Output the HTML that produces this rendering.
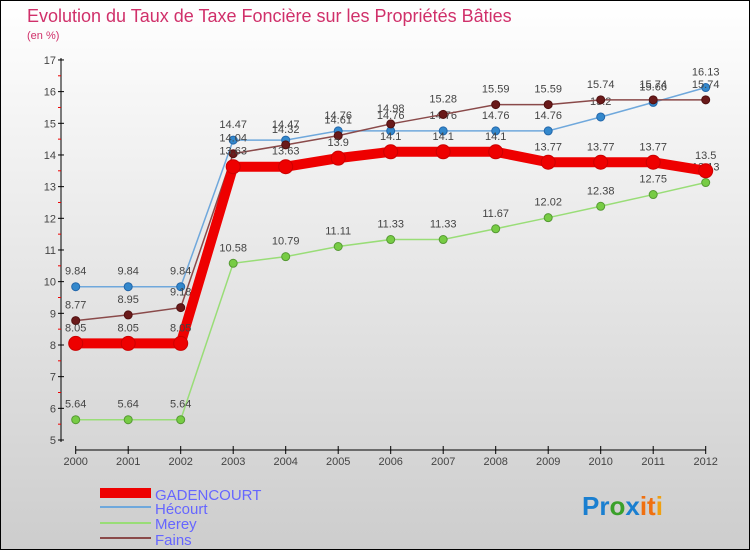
<!DOCTYPE html>
<html><head><meta charset="utf-8"><style>
body{margin:0}
#c{width:750px;height:550px;position:relative;overflow:hidden}
svg text{font-family:"Liberation Sans",sans-serif}
</style></head><body>
<div id="c">
<svg id="s" width="750" height="550" xmlns="http://www.w3.org/2000/svg">
<defs><linearGradient id="bg" x1="0" y1="0" x2="0" y2="1"><stop offset="0" stop-color="#ffffff"/><stop offset="1" stop-color="#cdcdcd"/></linearGradient></defs>
<rect x="0.5" y="0.5" width="749" height="549" fill="url(#bg)" stroke="#000"/>
<text x="27" y="22" font-size="18" fill="#d0306a">Evolution du Taux de Taxe Foncière sur les Propriétés Bâties</text>
<text x="27" y="39" font-size="11" fill="#d0306a">(en %)</text>
<g id="axes"></g><g id="series"></g>
<g>
<rect x="100" y="488" width="51" height="10" fill="#e00"/>
<text x="155" y="500" font-size="15" fill="#6666ff">GADENCOURT</text>
<rect x="100" y="506" width="51" height="2" fill="#6fa8dc"/>
<text x="155" y="514" font-size="15" fill="#6666ff">Hécourt</text>
<rect x="100" y="522" width="51" height="2" fill="#99dd77"/>
<text x="155" y="529" font-size="15" fill="#6666ff">Merey</text>
<rect x="100" y="537" width="51" height="2" fill="#8a4a4a"/>
<text x="155" y="545" font-size="15" fill="#6666ff">Fains</text>
</g>
<text x="582" y="515" font-size="26" font-weight="bold"><tspan fill="#1a7fd0">Pr</tspan><tspan fill="#3aa02a">o</tspan><tspan fill="#1a7fd0">x</tspan><tspan fill="#f07010">it</tspan><tspan fill="#f0a010">i</tspan></text>
</svg></div>
<script>
const years=[2000,2001,2002,2003,2004,2005,2006,2007,2008,2009,2010,2011,2012];
const yTicks=[5,6,7,8,9,10,11,12,13,14,15,16,17];
const gadencourt=[8.05,8.05,8.05,13.63,13.63,13.9,14.1,14.1,14.1,13.77,13.77,13.77,13.5];
const hecourt=[9.84,9.84,9.84,14.47,14.47,14.76,14.76,14.76,14.76,14.76,15.2,15.66,16.13];
const merey=[5.64,5.64,5.64,10.58,10.79,11.11,11.33,11.33,11.67,12.02,12.38,12.75,13.13];
const fains=[8.77,8.95,9.18,14.04,14.32,14.61,14.98,15.28,15.59,15.59,15.74,15.74,15.74];
const NS='http://www.w3.org/2000/svg';
const xs=i=>75.7+i*52.5;
const ys=v=>440-(v-5)*31.67;
function mk(t,a,p){const e=document.createElementNS(NS,t);for(const k in a)e.setAttribute(k,a[k]);p.appendChild(e);return e;}
const ax=document.getElementById('axes');
let l=mk('line',{x1:61,y1:58,x2:61,y2:442,stroke:'#000'},ax);


l=mk('line',{x1:75.7,y1:450,x2:705.5,y2:450,stroke:'#000'},ax);


yTicks.forEach(v=>{
  mk('line',{x1:58,y1:ys(v),x2:64,y2:ys(v),stroke:'#000'},ax);
  if(v<17) mk('line',{x1:58,y1:ys(v+0.5),x2:61,y2:ys(v+0.5),stroke:'#e00'},ax);
  const t=mk('text',{x:56,y:ys(v)+4,'font-size':11,'text-anchor':'end',fill:'#444'},ax);
  t.textContent=v;
  
  
});
years.forEach((y,i)=>{
  mk('line',{x1:xs(i),y1:446,x2:xs(i),y2:454,stroke:'#000'},ax);
  const t=mk('text',{x:xs(i),y:465,'font-size':11,'text-anchor':'middle',fill:'#444'},ax);
  t.textContent=y;
  
  
});
const sg=document.getElementById('series');
function draw(name,vals,color,w,r,dot,stroke){
  const g=mk('g',{},sg);
  
  
  const p=mk('polyline',{points:vals.map((v,i)=>xs(i)+','+ys(v)).join(' '),fill:'none',stroke:color,'stroke-width':w},g);
  
  
  vals.forEach((v,i)=>{
    const c=mk('circle',{cx:xs(i),cy:ys(v),r:r,fill:dot,stroke:stroke,'stroke-width':1},g);
    
    
    const t=mk('text',{x:xs(i),y:ys(v)-12,'font-size':11,'text-anchor':'middle',fill:'#444'},g);
    t.textContent=v;
    
    
  });
}
draw('merey',merey,'#99dd77',1.5,4,'#77cc44','#559933');
draw('hecourt',hecourt,'#6fa8dc',1.5,4,'#3388cc','#2266aa');
draw('fains',fains,'#8a4a4a',1.5,4,'#6a1a1a','#501010');
draw('gadencourt',gadencourt,'#ee0000',10,7,'#ee0000','#cc0000');
</script>
</body></html>
